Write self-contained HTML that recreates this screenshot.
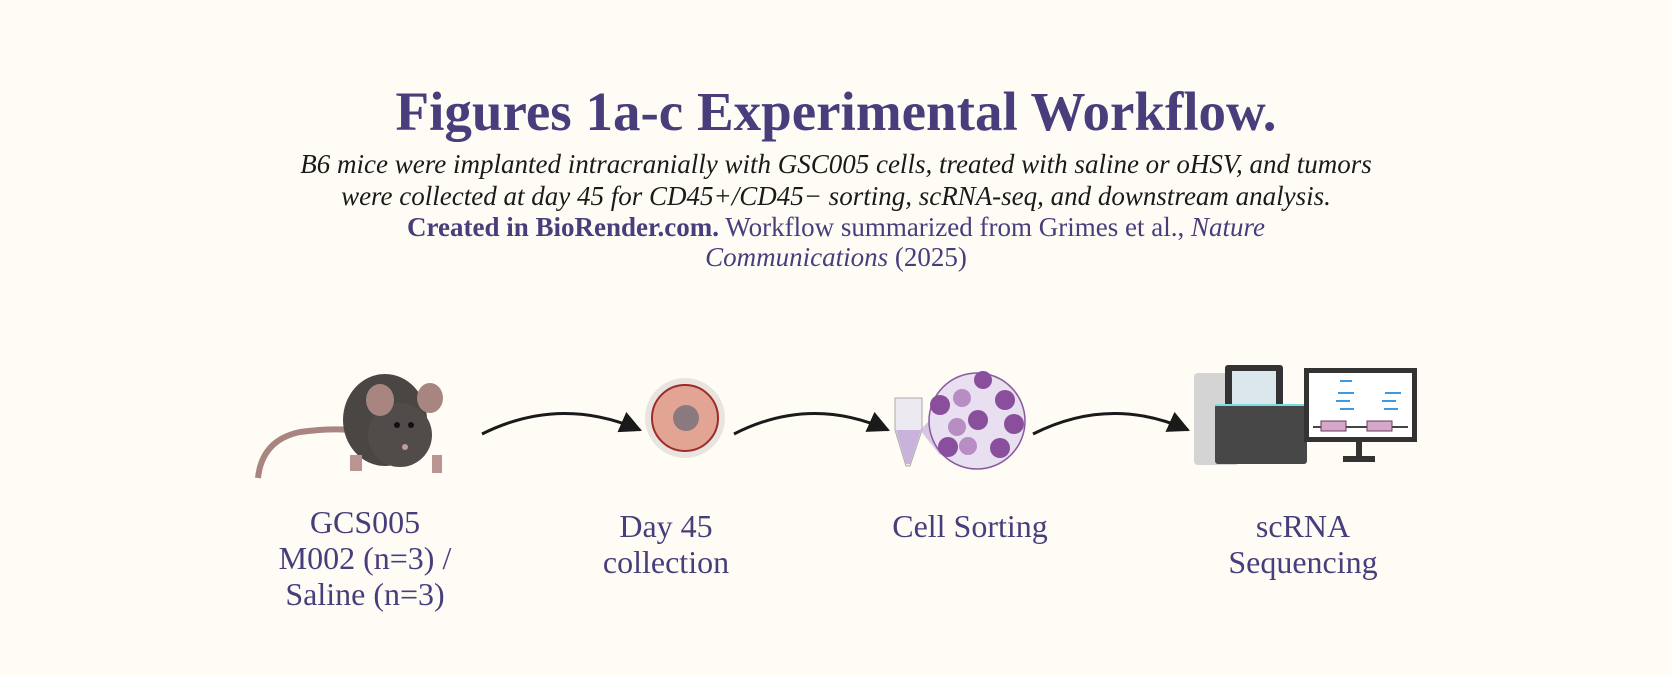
<!DOCTYPE html>
<html><head><meta charset="utf-8"><style>
html,body{margin:0;padding:0;background:#fefcf5;}
#c{position:relative;width:1672px;height:676px;overflow:hidden;background:#fefcf5;font-family:"Liberation Serif",serif;color:#4a3d7c;}
.t{position:absolute;left:0;width:1672px;text-align:center;white-space:nowrap;}
.lab{position:absolute;text-align:center;font-size:32px;line-height:36px;width:300px;}
</style></head><body><div id="c">
<div class="t" style="top:82px;font-size:55px;font-weight:bold;line-height:60px;">Figures 1a-c Experimental Workflow.</div>
<div class="t" style="top:148px;font-size:27px;font-style:italic;color:#1a1a1a;line-height:32px;">B6 mice were implanted intracranially with GSC005 cells, treated with saline or oHSV, and tumors<br>were collected at day 45 for CD45+/CD45− sorting, scRNA-seq, and downstream analysis.</div>
<div class="t" style="top:212px;font-size:27px;line-height:30px;"><b>Created in BioRender.com.</b> Workflow summarized from Grimes et al., <i>Nature</i><br><i>Communications</i> (2025)</div>

<svg width="1672" height="676" style="position:absolute;left:0;top:0">
<defs>
<marker id="a2" viewBox="0 0 10 10" markerWidth="22" markerHeight="22" refX="9" refY="5" orient="auto" markerUnits="userSpaceOnUse"><path d="M0,0 L10,5 L0,10 z" fill="#1a1a1a"/></marker></defs>
<g fill="none" stroke="#1a1a1a" stroke-width="3">
<path d="M482,434 Q560,395 640,430" marker-end="url(#a2)"/>
<path d="M734,434 Q810,395 888,430" marker-end="url(#a2)"/>
<path d="M1033,434 Q1110,395 1188,430" marker-end="url(#a2)"/>
</g>
<!-- mouse -->
<path d="M258,478 Q262,440 300,432 Q330,428 350,430" stroke="#a88580" stroke-width="6" fill="none"/>
<ellipse cx="385" cy="420" rx="42" ry="46" fill="#4a4644"/>
<ellipse cx="400" cy="435" rx="32" ry="32" fill="#514c4a"/>
<ellipse cx="380" cy="400" rx="14" ry="16" fill="#a88580"/>
<ellipse cx="430" cy="398" rx="13" ry="15" fill="#a88580"/>
<circle cx="397" cy="425" r="3" fill="#111"/><circle cx="411" cy="425" r="3" fill="#111"/>
<circle cx="405" cy="447" r="3" fill="#c49a9a"/>
<rect x="350" y="455" width="12" height="16" fill="#b89590"/><rect x="432" y="455" width="10" height="18" fill="#b89590"/>
<!-- tumor -->
<circle cx="685" cy="418" r="40" fill="#e8e4df"/>
<circle cx="685" cy="418" r="33" fill="#e2a594" stroke="#9e2a2a" stroke-width="2"/>
<circle cx="686" cy="418" r="13" fill="#8a7a80"/>
<!-- tube -->
<path d="M895,398 L922,398 L922,430 L910,466 L906,466 L895,430 z" fill="#ede9f1" stroke="#aaa"/>
<path d="M896,430 L921,430 L910,464 L906,464z" fill="#c9b3dd"/>
<path d="M920,430 L940,455 L960,390 z" fill="#c7b0dc" opacity="0.7"/>
<circle cx="977" cy="421" r="48" fill="#e8dff0" stroke="#8a5a9e" stroke-width="1.5"/>
<g fill="#8a4f9c"><circle cx="983" cy="380" r="9"/><circle cx="940" cy="405" r="10"/><circle cx="1005" cy="400" r="10"/><circle cx="978" cy="420" r="10"/><circle cx="1014" cy="424" r="10"/><circle cx="948" cy="447" r="10"/><circle cx="1000" cy="448" r="10"/></g>
<g fill="#b88dc4"><circle cx="962" cy="398" r="9"/><circle cx="957" cy="427" r="9"/><circle cx="968" cy="446" r="9"/></g>
<!-- sequencer -->
<rect x="1194" y="373" width="45" height="92" rx="4" fill="#d4d4d4"/>
<rect x="1225" y="365" width="58" height="45" rx="3" fill="#333"/>
<rect x="1232" y="371" width="44" height="33" fill="#dbe7ec"/>
<rect x="1215" y="404" width="92" height="60" rx="3" fill="#474747"/>
<rect x="1215" y="404" width="92" height="2" fill="#7dd"/>
<!-- monitor -->
<rect x="1304" y="368" width="113" height="74" fill="#333"/>
<rect x="1309" y="373" width="103" height="64" fill="#fff"/>
<g fill="#3d9ae0"><rect x="1340" y="380" width="12" height="2"/><rect x="1338" y="392" width="16" height="2"/><rect x="1336" y="400" width="14" height="2"/><rect x="1340" y="408" width="14" height="2"/><rect x="1385" y="392" width="16" height="2"/><rect x="1382" y="400" width="14" height="2"/><rect x="1384" y="408" width="14" height="2"/></g>
<rect x="1313" y="426" width="95" height="2" fill="#444"/>
<rect x="1321" y="421" width="25" height="10" fill="#d4a8c8" stroke="#6a3a5a"/>
<rect x="1367" y="421" width="25" height="10" fill="#d4a8c8" stroke="#6a3a5a"/>
<rect x="1356" y="442" width="6" height="16" fill="#333"/><rect x="1343" y="456" width="32" height="6" fill="#333"/>
</svg>

<div class="lab" style="left:215px;top:504px;">GCS005<br>M002 (n=3) /<br>Saline (n=3)</div>
<div class="lab" style="left:516px;top:508px;">Day 45<br>collection</div>
<div class="lab" style="left:820px;top:508px;">Cell Sorting</div>
<div class="lab" style="left:1153px;top:508px;">scRNA<br>Sequencing</div>
</div></body></html>
